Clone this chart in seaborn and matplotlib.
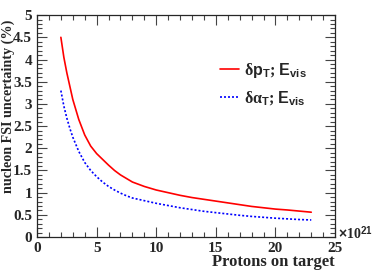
import matplotlib
matplotlib.use('Agg')
import matplotlib.pyplot as plt
import seaborn as sns
import pandas as pd
from matplotlib.ticker import MultipleLocator

# protons on target (x1e21)
pot = [2, 2.25, 2.5, 2.75, 3, 3.5, 4, 4.5, 5, 5.5, 6, 6.5, 7, 7.5, 8, 9, 10,
       11, 12, 13, 14, 15, 16, 17, 18, 19, 20, 21, 22, 23]
dpt = [4.5, 4.05, 3.7, 3.4, 3.1, 2.65, 2.3, 2.05, 1.88, 1.75, 1.62, 1.5, 1.4, 1.32, 1.24, 1.14, 1.06,
       1.0, 0.94, 0.89, 0.85, 0.81, 0.77, 0.73, 0.69, 0.66, 0.63, 0.61, 0.585, 0.56]
dat = [3.3, 2.95, 2.68, 2.45, 2.25, 1.93, 1.68, 1.5, 1.36, 1.24, 1.14, 1.06, 0.99, 0.93, 0.88, 0.82, 0.76,
       0.71, 0.66, 0.62, 0.58, 0.55, 0.52, 0.49, 0.465, 0.445, 0.425, 0.41, 0.395, 0.385]
labels = [r'$\delta\mathbf{p_T}$; $\mathbf{E_{vis}}$',
          r'$\delta\alpha_\mathbf{T}$; $\mathbf{E_{vis}}$']

sns.set_theme(style='ticks')
plt.rcParams['font.family'] = ['Liberation Serif', 'DejaVu Serif']
plt.rcParams['font.weight'] = 'bold'
plt.rcParams['mathtext.fontset'] = 'custom'
plt.rcParams['mathtext.rm'] = 'Liberation Sans:bold'
plt.rcParams['mathtext.bf'] = 'Liberation Sans:bold'
plt.rcParams['mathtext.it'] = 'Liberation Serif'

df = pd.DataFrame({'pot': pot, 'dpt': dpt, 'dat': dat})

fig = plt.figure(figsize=(3.74, 2.70), dpi=100)
ax = fig.add_axes([0.099, 0.122, 0.797, 0.822])

sns.lineplot(data=df, x='pot', y='dpt', ax=ax, color='#ff0000', lw=1.2, label=labels[0])
sns.lineplot(data=df, x='pot', y='dat', ax=ax, color='#0000ff', lw=1.2, ls=(0, (1.2, 1.2)), label=labels[1])

ax.set_xlim(0, 25)
ax.set_ylim(0, 5)
ax.xaxis.set_major_locator(MultipleLocator(5))
ax.xaxis.set_minor_locator(MultipleLocator(1))
ax.yaxis.set_major_locator(MultipleLocator(0.5))
ax.yaxis.set_minor_locator(MultipleLocator(0.1))
ax.yaxis.set_major_formatter(matplotlib.ticker.FuncFormatter(lambda v, p: f'{v:g}'))
ax.tick_params(which='both', direction='in', top=True, right=True, labelsize=11, width=0.8, color='#444444')
ax.tick_params(which='major', length=7)
ax.tick_params(which='minor', length=3.5)
for s in ax.spines.values():
    s.set_linewidth(0.9)
for t in ax.get_xticklabels() + ax.get_yticklabels():
    t.set_fontweight('bold')

ax.set_xlabel('Protons on target', fontsize=12, fontweight='bold', ha='right', va='center')
ax.xaxis.set_label_coords(1.0, -0.112)
ax.set_ylabel('nucleon FSI uncertainty (%)', fontsize=10.2, fontweight='bold', ha='right', va='center')
ax.yaxis.set_label_coords(-0.097, 0.98)
fig.text(0.903, 0.137, r'$\times$10$^{21}$', fontsize=10, family='Liberation Serif', ha='left', va='center')

leg = ax.legend(loc='upper left', bbox_to_anchor=(0.565, 0.86), frameon=False, fontsize=11.5,
                handlelength=1.2, handletextpad=0.3, labelspacing=0.6)

fig.savefig('out.png', dpi=100)
